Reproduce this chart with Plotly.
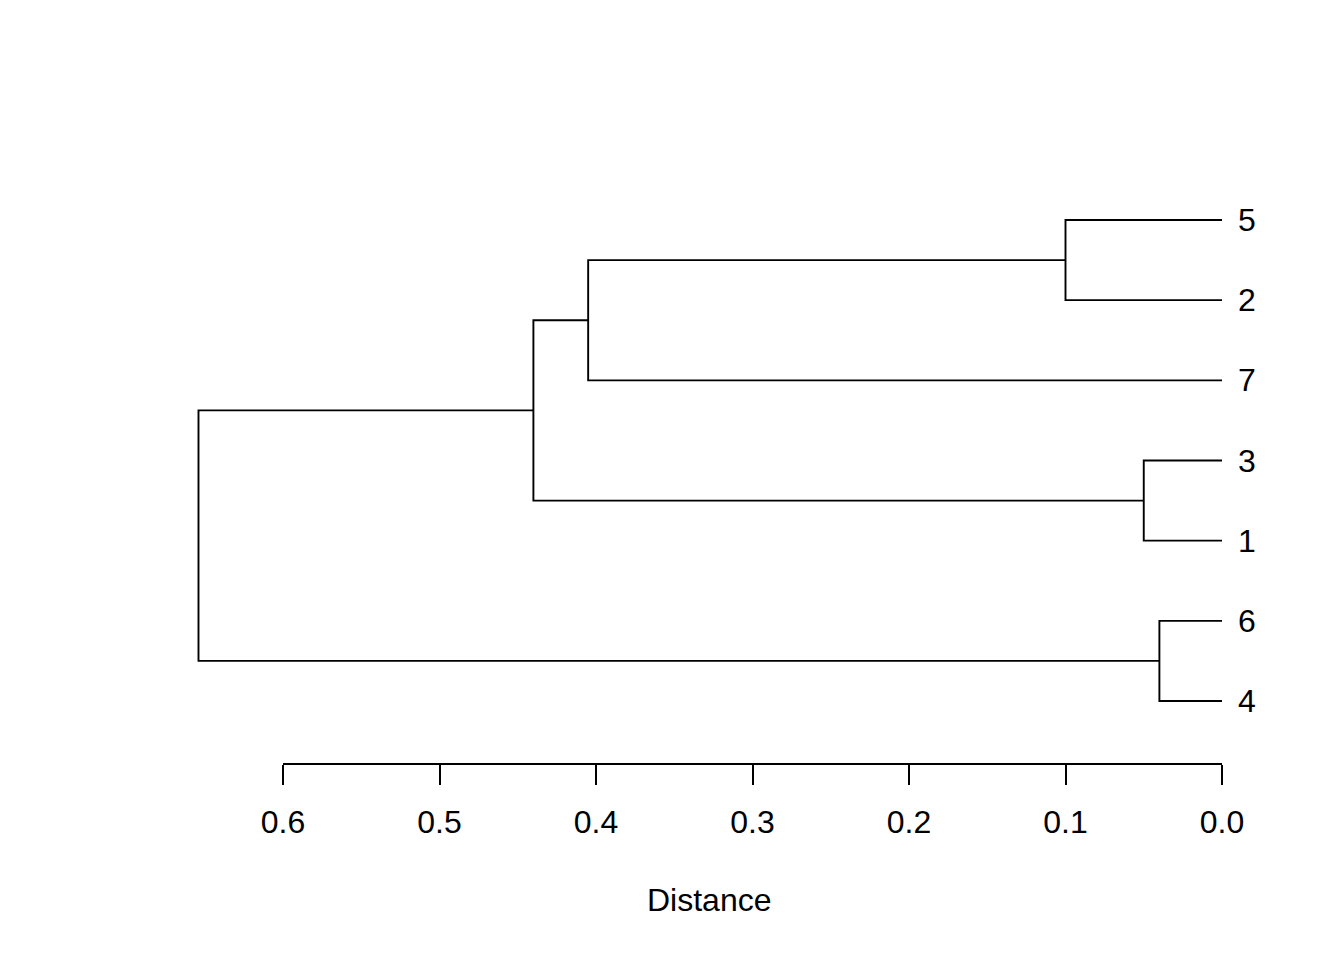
import plotly.graph_objects as go

# leaf labels, top to bottom as drawn
leaf_order = ["5", "2", "7", "3", "1", "6", "4"]

# hclust-style merge table: negative = leaf label, positive = earlier merge (1-based)
merge_left = [-6, -3, -5, 3, 4, 5]
merge_right = [-4, -1, -2, -7, 2, 1]
merge_height = [0.040, 0.050, 0.100, 0.405, 0.440, 0.654]

tick_vals = [0.6, 0.5, 0.4, 0.3, 0.2, 0.1, 0.0]
tick_text = ["0.6", "0.5", "0.4", "0.3", "0.2", "0.1", "0.0"]

# leaf positions: top leaf gets the largest y
n = len(leaf_order)
leaf_y = {int(lab): n - i for i, lab in enumerate(leaf_order)}

node_x = {}
node_y = {}


def pos(ref):
    if ref < 0:
        return 0.0, leaf_y[-ref]
    return node_x[ref], node_y[ref]


xs, ys = [], []
for k, (a, b, h) in enumerate(zip(merge_left, merge_right, merge_height), start=1):
    ax, ay = pos(a)
    bx, by = pos(b)
    xs += [ax, h, h, bx, None]
    ys += [ay, ay, by, by, None]
    node_x[k] = h
    node_y[k] = (ay + by) / 2

# page body has an 8px margin, so the figure is placed at (8, 8)
OFF = 8
W, H = 1344 - OFF, 960 - OFF
FONT = "Liberation Sans, Arial, Helvetica, sans-serif"
LW = 1.9

# pixel geometry of the reference (screen coords minus the offset)
px_zero, px_six = 1222 - OFF, 283 - OFF
sx = (px_zero - px_six) / 0.6
x_range = [px_zero / sx, -(W - px_zero) / sx]

py_top_leaf, py_bottom_leaf, py_axis = 220 - OFF, 701 - OFF, 763 - OFF
sy = (py_bottom_leaf - py_top_leaf) / (n - 1)
y_range = [1 - (py_axis - py_bottom_leaf) / sy, n + py_top_leaf / sy]

fig = go.Figure()
# invisible trace so the distance axis gets drawn
fig.add_trace(go.Scatter(
    x=tick_vals, y=[y_range[0]] * len(tick_vals), xaxis="x2",
    mode="markers", marker=dict(opacity=0),
    hoverinfo="skip", showlegend=False,
))
fig.add_trace(go.Scatter(
    x=xs, y=ys, mode="lines",
    line=dict(color="black", width=LW),
    hoverinfo="skip", showlegend=False,
))

for lab in leaf_order:
    fig.add_annotation(
        x=0, y=leaf_y[int(lab)], xref="x", yref="y",
        text=lab, showarrow=False, xanchor="left", yanchor="middle",
        xshift=14, font=dict(size=32, color="black", family=FONT),
    )

fig.add_annotation(
    x=(710 - OFF) / W, y=1 - (900 - OFF) / H, xref="paper", yref="paper",
    text="Distance", showarrow=False, xanchor="center", yanchor="middle",
    font=dict(size=32, color="black", family=FONT),
)

fig.update_layout(
    width=W, height=H,
    margin=dict(l=0, r=0, t=0, b=0),
    plot_bgcolor="rgba(0,0,0,0)", paper_bgcolor="white",
    font=dict(family=FONT, color="black"),
    xaxis=dict(range=x_range, domain=[0, 1], visible=False, fixedrange=True),
    xaxis2=dict(
        range=[0.6, 0.0], domain=[px_six / W, px_zero / W], anchor="y",
        tickvals=tick_vals, ticktext=tick_text,
        showline=True, linecolor="black", linewidth=LW,
        ticks="outside", ticklen=20, tickwidth=LW, tickcolor="black",
        showgrid=False, zeroline=False, automargin=False, fixedrange=True,
        tickfont=dict(size=32, color="black", family=FONT),
        ticklabelstandoff=10,
    ),
    yaxis=dict(range=y_range, domain=[1 - py_axis / H, 1], visible=False,
               fixedrange=True),
)

fig.write_html("out.html")
